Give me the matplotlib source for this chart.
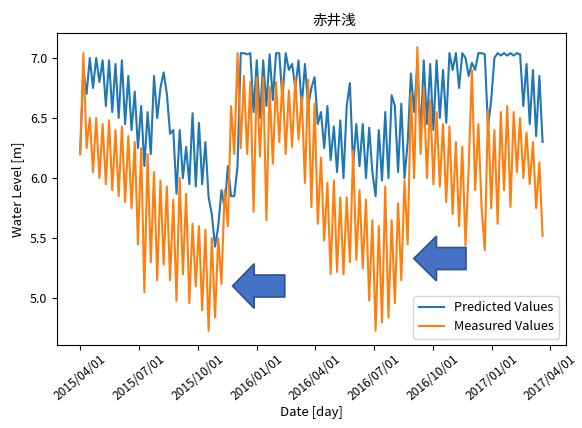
import matplotlib
matplotlib.use("Agg")
import matplotlib.pyplot as plt
import matplotlib.dates as mdates
from matplotlib.patches import FancyArrow
import pandas as pd

plt.rcParams['font.family'] = ['Noto Sans CJK JP', 'DejaVu Sans']
plt.rcParams['xtick.labelsize'] = 8.6
plt.rcParams['ytick.labelsize'] = 9
plt.rcParams['axes.labelsize'] = 9.5
plt.rcParams['legend.fontsize'] = 9.2

# waarden om de 5 dagen, vanaf 2015/04/01
datums = pd.date_range('2015-04-01', periods=145, freq='5D')

voorspeld = [
	6.2, 6.9, 6.7, 7.0, 6.75, 7.0, 6.8, 6.98, 6.6, 6.98,
	6.55, 6.95, 6.5, 6.98, 6.45, 6.85, 6.4, 6.72, 6.25, 6.6,
	6.1, 6.55, 6.2, 6.85, 6.5, 6.75, 6.88, 6.7, 6.37, 6.4,
	5.87, 6.4, 6.0, 6.26, 5.95, 6.54, 5.93, 6.46, 5.95, 6.3,
	5.84, 5.7, 5.43, 5.6, 5.9, 5.75, 6.1, 5.85, 5.85, 6.1,
	7.04, 7.04, 7.03, 7.04, 6.55, 6.98, 6.5, 6.98, 6.6, 7.03,
	6.65, 7.04, 7.04, 6.65, 7.04, 6.9, 6.95, 6.75, 6.98, 6.6,
	6.95, 6.6, 6.75, 6.84, 6.45, 6.55, 6.25, 6.6, 6.15, 6.43,
	6.05, 6.48, 6.0, 6.6, 6.79, 6.1, 6.45, 6.1, 6.45, 6.0,
	6.42, 6.05, 5.85, 6.4, 5.98, 6.55, 6.0, 6.69, 6.6, 6.05,
	6.62, 6.0, 6.3, 6.87, 6.55, 6.95, 6.35, 6.98, 6.45, 6.95,
	6.4, 6.98, 6.5, 6.9, 6.46, 7.04, 6.9, 7.04, 6.75, 7.04,
	7.0, 6.85, 6.96, 6.9, 7.04, 7.04, 7.03, 6.42, 6.65, 7.0,
	7.04, 7.02, 7.04, 7.02, 7.04, 7.02, 7.04, 7.03, 6.6, 6.95,
	6.45, 6.9, 6.35, 6.85, 6.3,
]

gemeten = [
	6.2, 7.04, 6.25, 6.5, 6.05, 6.5, 6.0, 6.45, 5.95, 6.48,
	5.9, 6.4, 5.85, 6.43, 5.8, 6.35, 5.75, 6.3, 5.45, 6.25,
	5.05, 6.2, 5.3, 6.05, 5.15, 5.98, 5.28, 5.93, 5.15, 5.82,
	4.98, 6.0, 5.2, 5.87, 4.96, 5.62, 5.1, 5.6, 4.9, 5.57,
	4.73, 5.5, 4.84, 5.5, 5.12, 5.9, 5.6, 6.6, 6.2, 7.04,
	6.25, 6.85, 6.2, 6.8, 5.72, 6.84, 6.18, 6.84, 5.65, 6.76,
	6.12, 6.8, 6.3, 6.82, 6.2, 6.73, 6.26, 6.84, 6.32, 6.68,
	5.96, 6.82, 5.76, 6.62, 5.62, 6.17, 5.48, 5.96, 5.2, 5.98,
	5.22, 5.84, 5.2, 5.84, 5.3, 6.23, 5.32, 5.9, 5.25, 5.82,
	4.98, 5.65, 4.73, 5.6, 4.8, 5.93, 4.84, 5.65, 4.96, 5.79,
	5.15, 5.98, 5.45, 6.7, 6.0, 7.09, 6.2, 6.75, 6.0, 6.65,
	5.95, 6.55, 5.93, 6.45, 5.8, 6.43, 5.7, 6.3, 5.6, 6.26,
	5.44, 6.1, 6.9, 5.9, 6.45, 5.76, 5.4, 6.57, 5.75, 6.4,
	5.62, 6.55, 5.9, 6.6, 5.76, 6.55, 6.05, 6.5, 6.0, 6.38,
	5.95, 6.3, 5.75, 6.13, 5.52,
]

fig = plt.figure(figsize=(5.82, 4.28), dpi=100)
ax = fig.add_axes([0.098, 0.194, 0.874, 0.729])

ax.plot(datums, voorspeld, color='tab:blue', label='Predicted Values')
ax.plot(datums, gemeten, color='tab:orange', label='Measured Values')

ax.xaxis.set_major_locator(mdates.MonthLocator(bymonth=[1, 4, 7, 10]))
ax.xaxis.set_major_formatter(mdates.DateFormatter('%Y/%m/%d'))
plt.setp(ax.get_xticklabels(), rotation=40)
ax.tick_params(axis='x', pad=2)

ax.set_title('赤井浅', fontsize=10.5, x=0.545)
ax.set_xlabel('Date [day]', labelpad=2)
ax.set_ylabel('Water Level [m]')
ax.legend(loc='lower right')

# blauwe pijlen (aanwijzing)
pijl_kleur = '#4472C4'
for x0, y0, kop in [(0.4477, 0.189, 0.0426), (0.804, 0.277, 0.0446)]:
	ax.add_patch(FancyArrow(x0, y0, -0.1027, 0, width=0.0705,
	                        head_width=0.143, head_length=kop,
	                        length_includes_head=True, transform=ax.transAxes,
	                        facecolor=pijl_kleur, edgecolor='#2F528F',
	                        linewidth=1.2, zorder=5))

fig.savefig('out.png', dpi=100)
